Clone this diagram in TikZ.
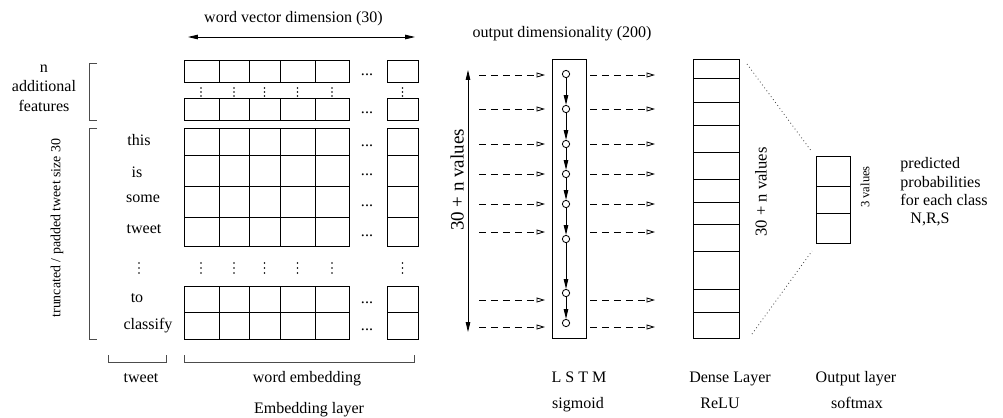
\documentclass[tikz,border=0pt]{standalone}
\usepackage{fontspec}
\setmainfont{Liberation Serif}
\usetikzlibrary{arrows.meta}
\begin{document}
\begin{tikzpicture}[x=0.025cm, y=-0.025cm, line width=0.6pt,
    every node/.style={font=\fontsize{11.4}{13.7}\selectfont, inner sep=0pt},
    lbl/.style={anchor=base},
    brace/.style={black!70},
    feedarrow/.style={dash pattern=on 5pt off 3.5pt, -{Triangle[open,length=6pt,width=3.5pt]}},
    cell/.style={circle, draw, minimum size=5.2pt, fill=white},
    solidarrow/.style={-{Triangle[length=7pt,width=3.2pt]}}]
    \useasboundingbox (0,0) rectangle (1003,417);
    %Embedding matrix
    \foreach \ya/\yb in {60/82, 98/120, 128/155, 155/186, 186/217, 217/246, 286/312, 312/339}
        \foreach \xa/\xb in {184/219, 219/249, 249/280, 280/315, 315/349, 387/418}
            \draw (\xa,\ya) rectangle (\xb,\yb);
    \foreach \y in {71, 109, 141.5, 170.5, 201.5, 231.5, 299, 325.5}
        \node at (367,\y+4) {...};
    %vertical dots
    \foreach \x in {139, 201, 234, 264.5, 297.5, 332, 402.5}
        \foreach \d in {-5,0,5}
            \fill (\x,268+\d) circle (0.55pt);
    \foreach \x in {201, 234, 264.5, 297.5, 332, 402.5}
        \foreach \d in {-4,0,4}
            \fill (\x,92+\d) circle (0.55pt);
    %word vector dimension
    \node[lbl] (wvd) at (293.5,22) {word vector dimension (30)};
    \coordinate (wvdl) at (188,37);
    \coordinate (wvdr) at (415,37);
    \draw[{Triangle[length=7pt,width=3.2pt]}-{Triangle[length=7pt,width=3.2pt]}] (wvdl) -- (wvdr);
    %Input words
    \node[lbl] (w1) at (139,145) {this};
    \node[lbl] (w2) at (137,177) {is};
    \node[lbl] (w3) at (143,202) {some};
    \node[lbl] (w4) at (144,233) {tweet};
    \node[lbl] (w5) at (137,302) {to};
    \node[lbl] (w6) at (148,329) {classify};
    %Side brackets
    \draw[brace] (97,63) -- (89,63) -- (89,120) -- (97,120);
    \draw[brace] (97,128) -- (89,128) -- (89,339) -- (97,339);
    \node[lbl] (feat1) at (44,72) {n};
    \node[lbl] (feat2) at (44,91) {additional};
    \node[lbl] (feat3) at (44,111) {features};
    \node[rotate=90, font=\fontsize{9.9}{12}\selectfont] (trunc) at (57,228) {truncated / padded tweet size 30};
    %Bottom brackets
    \draw[brace] (108,355) -- (108,362) -- (166,362) -- (166,355);
    \draw[brace] (184,355) -- (184,362) -- (414,362) -- (414,355);
    \node[lbl] (twt) at (141,382) {tweet};
    \node[lbl] (wemb) at (307,382) {word embedding};
    \node[lbl] (emb) at (309,413) {Embedding layer};
    %LSTM
    \node[lbl] (odim) at (562,37) {output dimensionality (200)};
    \draw (552,59) rectangle (586,338);
    \foreach \y [count=\i] in {74, 109, 144, 174, 204, 239, 293, 323}
        \node[cell] (c\i) at (566,\y) {};
    \foreach \i [evaluate=\i as \j using int(\i+1)] in {1,...,7}
        \draw[solidarrow] (c\i) -- (c\j);
    \foreach \y [count=\i] in {75, 109, 144, 174, 204, 232, 300, 327}{
        \coordinate (inA\i) at (479,\y);
        \coordinate (inB\i) at (545,\y);
        \coordinate (outA\i) at (590,\y);
        \coordinate (outB\i) at (655,\y);
        \draw[feedarrow] (inA\i) -- (inB\i);
        \draw[feedarrow] (outA\i) -- (outB\i);
    }
    \coordinate (seqt) at (468,70);
    \coordinate (seqb) at (468,332);
    \draw[{Triangle[length=7pt,width=3.2pt]}-{Triangle[length=7pt,width=3.2pt]}] (seqb) -- (seqt);
    \node[rotate=90, font=\fontsize{13.5}{16}\selectfont] (seqlbl) at (457,180) {30 + n values};
    \node[lbl] (lstm) at (579,382) {L S T M};
    \node[lbl] (sig) at (578,408) {sigmoid};
    %Dense layer
    \draw (693,59) rectangle (739,338);
    \foreach \y in {78, 102, 125, 152, 179, 202, 224, 251, 289, 312}
        \draw (693,\y) -- (739,\y);
    \node[rotate=90, font=\fontsize{11.8}{14}\selectfont] (denselbl) at (761,192) {30 + n values};
    \node[lbl] (dense) at (730,382) {Dense Layer};
    \node[lbl] (relu) at (720,408) {ReLU};
    %Output layer
    \draw (816,156) rectangle (850,243);
    \draw (816,186) -- (850,186);
    \draw (816,213) -- (850,213);
    \coordinate (dt) at (747,64);
    \coordinate (db) at (752,334);
    \coordinate (ot) at (812,152);
    \coordinate (ob) at (812,251);
    \draw[dotted, black!70] (dt) -- (ot);
    \draw[dotted, black!70] (db) -- (ob);
    \node[rotate=90, font=\fontsize{9}{11}\selectfont] (outlbl) at (865,187) {3 values};
    \node[anchor=base west] (pred1) at (900,168) {predicted};
    \node[anchor=base west] (pred2) at (900,187) {probabilities};
    \node[anchor=base west] (pred3) at (900,205) {for each class};
    \node[anchor=base west] (pred4) at (910,223) {N,R,S};
    \node[lbl] (outl) at (856,382) {Output layer};
    \node[lbl] (soft) at (857,408) {softmax};
\end{tikzpicture}
\end{document}
